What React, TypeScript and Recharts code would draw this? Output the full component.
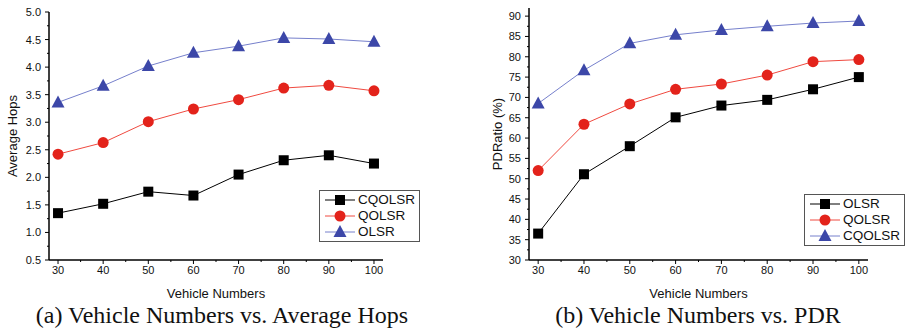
import { LineChart, Line, XAxis, YAxis, Label } from 'recharts'

const vehicles = [30, 40, 50, 60, 70, 80, 90, 100]

// (a) average hops
const hopsCQOLSR = [1.35, 1.52, 1.74, 1.67, 2.05, 2.31, 2.4, 2.25]
const hopsQOLSR = [2.42, 2.63, 3.01, 3.24, 3.41, 3.62, 3.67, 3.57]
const hopsOLSR = [3.36, 3.66, 4.02, 4.26, 4.38, 4.53, 4.51, 4.46]

// (b) packet delivery ratio
const pdrOLSR = [36.5, 51.1, 58.0, 65.1, 68.0, 69.4, 72.0, 75.0]
const pdrQOLSR = [52.0, 63.4, 68.4, 72.0, 73.3, 75.5, 78.8, 79.3]
const pdrCQOLSR = [68.5, 76.7, 83.3, 85.4, 86.6, 87.5, 88.3, 88.8]

const xTicks = [30, 35, 40, 45, 50, 55, 60, 65, 70, 75, 80, 85, 90, 95, 100]
const hopsTicks = [0.5, 0.75, 1, 1.25, 1.5, 1.75, 2, 2.25, 2.5, 2.75, 3, 3.25, 3.5, 3.75, 4, 4.25, 4.5, 4.75, 5]
const pdrTicks = [30, 32.5, 35, 37.5, 40, 42.5, 45, 47.5, 50, 52.5, 55, 57.5, 60, 62.5, 65, 67.5, 70, 72.5, 75, 77.5, 80, 82.5, 85, 87.5, 90]

const hopsData = vehicles.map((v, i) => ({ v, CQOLSR: hopsCQOLSR[i], QOLSR: hopsQOLSR[i], OLSR: hopsOLSR[i] }))
const pdrData = vehicles.map((v, i) => ({ v, OLSR: pdrOLSR[i], QOLSR: pdrQOLSR[i], CQOLSR: pdrCQOLSR[i] }))

const FONT = '"Liberation Sans", Arial, sans-serif'
const BLACK = '#000000'
const RED = { marker: '#e3231b', line: '#f04a40' }
const BLUE = { marker: '#3c47a8', line: '#7680cc' }

function XTick(props: any) {
  const { x, y, payload } = props
  const major = payload.value % 10 === 0
  return (
    <g>
      <line x1={x} x2={x} y1={y - 8} y2={y - 8 + (major ? 4 : 2)} stroke="#000" strokeWidth={1} />
      {major && (
        <text x={x} y={y + 6} textAnchor="middle" fontSize={11} fontFamily={FONT} fill="#111">
          {payload.value}
        </text>
      )}
    </g>
  )
}

function makeYTick(isMajor: (v: number) => boolean, fmt: (v: number) => string) {
  return function YTick(props: any) {
    const { x, y, payload } = props
    const major = isMajor(payload.value)
    return (
      <g>
        <line x1={x + 8} x2={x + 8 - (major ? 4 : 2)} y1={y} y2={y} stroke="#000" strokeWidth={1} />
        {major && (
          <text x={x} y={y + 4} textAnchor="end" fontSize={11} fontFamily={FONT} fill="#111">
            {fmt(payload.value)}
          </text>
        )}
      </g>
    )
  }
}

const HopsTick = makeYTick((v) => Math.abs(v * 2 - Math.round(v * 2)) < 1e-6, (v) => v.toFixed(1))
const PdrTick = makeYTick((v) => v % 5 === 0, (v) => String(v))

function Square({ cx, cy, color }: any) {
  return <rect x={cx - 5} y={cy - 5} width={10} height={10} fill={color} />
}
function Circle({ cx, cy, color }: any) {
  return <circle cx={cx} cy={cy} r={5.5} fill={color} />
}
function Triangle({ cx, cy, color }: any) {
  return <polygon points={`${cx},${cy - 7} ${cx - 6.5},${cy + 5} ${cx + 6.5},${cy + 5}`} fill={color} />
}

const MARKERS: Record<string, any> = { square: Square, circle: Circle, triangle: Triangle }

interface Item {
  name: string
  shape: string
  marker: string
  line: string
}

function LegendBox({ items, left, top }: { items: Item[]; left: number; top: number }) {
  return (
    <div
      style={{
        position: 'absolute',
        left,
        top,
        border: '1.5px solid #555',
        background: '#fff',
        padding: '1px 4px 1px 5px',
        fontFamily: FONT,
        fontSize: 13.5,
        lineHeight: '16px',
      }}
    >
      {items.map((it) => {
        const M = MARKERS[it.shape]
        return (
          <div key={it.name} style={{ display: 'flex', alignItems: 'center' }}>
            <svg width={30} height={16}>
              <line x1={0} x2={30} y1={8} y2={8} stroke={it.line} strokeWidth={1} />
              <M cx={15} cy={8} color={it.marker} />
            </svg>
            <span style={{ marginLeft: 3, color: '#111' }}>{it.name}</span>
          </div>
        )
      })}
    </div>
  )
}

const hopsItems: Item[] = [
  { name: 'CQOLSR', shape: 'square', marker: BLACK, line: BLACK },
  { name: 'QOLSR', shape: 'circle', marker: RED.marker, line: RED.line },
  { name: 'OLSR', shape: 'triangle', marker: BLUE.marker, line: BLUE.line },
]
const pdrItems: Item[] = [
  { name: 'OLSR', shape: 'square', marker: BLACK, line: BLACK },
  { name: 'QOLSR', shape: 'circle', marker: RED.marker, line: RED.line },
  { name: 'CQOLSR', shape: 'triangle', marker: BLUE.marker, line: BLUE.line },
]

function series(key: string, shape: string, marker: string, line: string) {
  const M = MARKERS[shape]
  return (
    <Line
      key={key}
      dataKey={key}
      stroke={line}
      strokeWidth={1}
      isAnimationActive={false}
      dot={(p: any) => <M key={p.index} cx={p.cx} cy={p.cy} color={marker} />}
      activeDot={false}
    />
  )
}

const captionStyle: React.CSSProperties = {
  position: 'absolute',
  top: 301,
  fontFamily: '"Liberation Serif", "Times New Roman", serif',
  fontSize: 24,
  lineHeight: '28px',
  color: '#111',
  whiteSpace: 'nowrap',
  transform: 'translateX(-50%)',
}

export default function App() {
  return (
    <div style={{ position: 'absolute', left: 0, top: 0, width: 905, height: 329, background: '#fff', overflow: 'hidden' }}>
      {/* (a) */}
      <div style={{ position: 'absolute', left: 0, top: 0 }}>
        <LineChart width={400} height={302} data={hopsData} margin={{ top: 12, right: 17, bottom: 0, left: 0 }}>
          <XAxis
            dataKey="v"
            type="number"
            domain={[28, 102]}
            ticks={xTicks}
            interval={0}
            tick={XTick}
            tickLine={false}
            axisLine={{ stroke: '#000', strokeWidth: 1.5 }}
            height={42}
          >
            <Label value="Vehicle Numbers" position="insideBottom" offset={4} style={{ fontFamily: FONT, fontSize: 13, fill: '#111' }} />
          </XAxis>
          <YAxis
            type="number"
            domain={[0.5, 5]}
            ticks={hopsTicks}
            interval={0}
            tick={HopsTick}
            tickLine={false}
            axisLine={{ stroke: '#000', strokeWidth: 1.5 }}
            width={49}
          >
            <Label value="Average Hops" angle={-90} position="insideLeft" offset={12} style={{ textAnchor: 'middle', fontFamily: FONT, fontSize: 13, fill: '#111' }} />
          </YAxis>
          {series('CQOLSR', 'square', BLACK, BLACK)}
          {series('QOLSR', 'circle', RED.marker, RED.line)}
          {series('OLSR', 'triangle', BLUE.marker, BLUE.line)}
        </LineChart>
      </div>
      <LegendBox items={hopsItems} left={319} top={190} />

      {/* (b) */}
      <div style={{ position: 'absolute', left: 460, top: 0 }}>
        <LineChart width={445} height={302} data={pdrData} margin={{ top: 8, right: 37, bottom: 0, left: 0 }}>
          <XAxis
            dataKey="v"
            type="number"
            domain={[28, 102]}
            ticks={xTicks}
            interval={0}
            tick={XTick}
            tickLine={false}
            axisLine={{ stroke: '#000', strokeWidth: 1.5 }}
            height={42}
          >
            <Label value="Vehicle Numbers" position="insideBottom" offset={4} style={{ fontFamily: FONT, fontSize: 13, fill: '#111' }} />
          </XAxis>
          <YAxis
            type="number"
            domain={[30, 92]}
            ticks={pdrTicks}
            interval={0}
            tick={PdrTick}
            tickLine={false}
            axisLine={{ stroke: '#000', strokeWidth: 1.5 }}
            width={69}
          >
            <Label value="PDRatio (%)" angle={-90} position="insideLeft" offset={37} style={{ textAnchor: 'middle', fontFamily: FONT, fontSize: 13, fill: '#111' }} />
          </YAxis>
          {series('OLSR', 'square', BLACK, BLACK)}
          {series('QOLSR', 'circle', RED.marker, RED.line)}
          {series('CQOLSR', 'triangle', BLUE.marker, BLUE.line)}
        </LineChart>
      </div>
      <LegendBox items={pdrItems} left={804} top={194} />

      <div style={{ ...captionStyle, left: 222 }}>(a) Vehicle Numbers vs. Average Hops</div>
      <div style={{ ...captionStyle, left: 698 }}>(b) Vehicle Numbers vs. PDR</div>
    </div>
  )
}
